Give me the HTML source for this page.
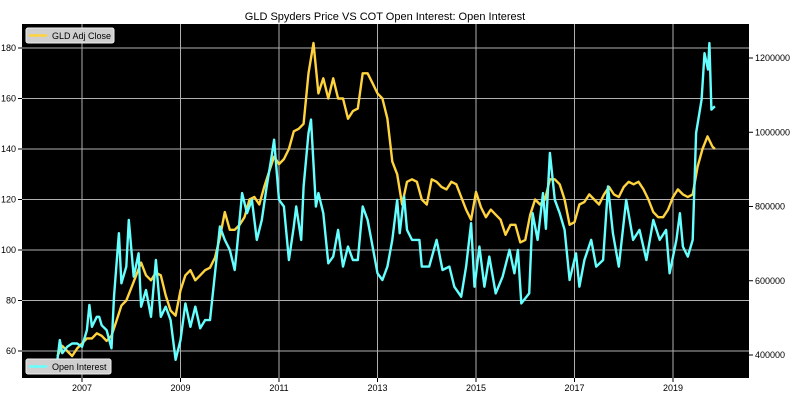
<!DOCTYPE html>
<html><head><meta charset="utf-8"><style>
html,body{margin:0;padding:0;background:#fff;}
svg{display:block;font-family:"Liberation Sans","DejaVu Sans",sans-serif;}
</style></head><body>
<svg id="chart" width="800" height="403" viewBox="0 0 800 403" xmlns="http://www.w3.org/2000/svg">
<text x="385" y="20" font-size="11" text-anchor="middle" fill="#000">GLD Spyders Price VS COT Open Interest: Open Interest</text>
<rect x="22" y="24" width="727" height="354" fill="#000"/>
<g id="grid"></g><g id="axes"></g><g id="series"></g>
<g>
<rect x="26" y="28" width="88" height="15" rx="2" fill="#cfcfcf" stroke="#eee"/>
<line x1="29" y1="35.5" x2="47" y2="35.5" stroke="#ffd33d" stroke-width="2.5"/>
<text x="52" y="39" font-size="9" fill="#000">GLD Adj Close</text></g>
<g>
<rect x="26" y="359" width="85" height="15" rx="2" fill="#cfcfcf" stroke="#eee"/>
<line x1="29" y1="366.5" x2="47" y2="366.5" stroke="#66ffff" stroke-width="2.5"/>
<text x="52" y="370" font-size="9" fill="#000">Open Interest</text></g>
</svg>
<script>
const gldDates=[2006.5,2006.6,2006.7,2006.8,2006.9,2007.0,2007.1,2007.2,2007.3,2007.4,2007.5,2007.6,2007.7,2007.8,2007.9,2008.0,2008.1,2008.2,2008.3,2008.4,2008.5,2008.6,2008.7,2008.8,2008.9,2009.0,2009.1,2009.2,2009.3,2009.4,2009.5,2009.6,2009.7,2009.8,2009.9,2010.0,2010.1,2010.2,2010.3,2010.4,2010.5,2010.6,2010.7,2010.8,2010.9,2011.0,2011.1,2011.2,2011.3,2011.4,2011.5,2011.6,2011.7,2011.8,2011.9,2012.0,2012.1,2012.2,2012.3,2012.4,2012.5,2012.6,2012.7,2012.8,2012.9,2013.0,2013.1,2013.2,2013.3,2013.4,2013.5,2013.6,2013.7,2013.8,2013.9,2014.0,2014.1,2014.2,2014.3,2014.4,2014.5,2014.6,2014.7,2014.8,2014.9,2015.0,2015.1,2015.2,2015.3,2015.4,2015.5,2015.6,2015.7,2015.8,2015.9,2016.0,2016.1,2016.2,2016.3,2016.4,2016.5,2016.6,2016.7,2016.8,2016.9,2017.0,2017.1,2017.2,2017.3,2017.4,2017.5,2017.6,2017.7,2017.8,2017.9,2018.0,2018.1,2018.2,2018.3,2018.4,2018.5,2018.6,2018.7,2018.8,2018.9,2019.0,2019.1,2019.2,2019.3,2019.4,2019.5,2019.6,2019.7,2019.8,2019.85];
const gldValues=[58,62,60,58,61,63,65,65,67,66,64,66,72,78,80,85,90,95,90,88,91,90,82,76,74,84,90,92,88,90,92,93,97,105,115,108,108,110,113,120,121,118,125,131,137,134,136,140,147,148,150,170,182,162,168,160,168,160,160,152,155,156,170,170,166,162,160,152,135,130,118,127,128,127,120,118,128,127,125,124,127,126,121,116,112,123,117,113,116,114,112,106,110,110,103,104,114,120,118,120,128,128,126,120,110,111,118,119,122,120,118,122,125,122,121,125,127,126,127,124,120,115,113,113,116,121,124,122,121,122,133,140,145,141,140];
const oiDates=[2006.5,2006.55,2006.6,2006.7,2006.8,2006.9,2007.0,2007.1,2007.15,2007.2,2007.3,2007.35,2007.4,2007.5,2007.6,2007.65,2007.75,2007.8,2007.9,2007.95,2008.05,2008.15,2008.2,2008.3,2008.4,2008.5,2008.6,2008.7,2008.8,2008.9,2009.0,2009.1,2009.2,2009.3,2009.4,2009.5,2009.6,2009.7,2009.8,2009.9,2010.0,2010.1,2010.15,2010.25,2010.35,2010.45,2010.55,2010.65,2010.75,2010.85,2010.9,2011.0,2011.1,2011.2,2011.3,2011.35,2011.45,2011.5,2011.6,2011.65,2011.75,2011.8,2011.9,2012.0,2012.1,2012.2,2012.3,2012.4,2012.5,2012.6,2012.7,2012.8,2012.9,2013.0,2013.1,2013.2,2013.3,2013.4,2013.45,2013.54,2013.6,2013.7,2013.85,2013.9,2014.05,2014.2,2014.32,2014.46,2014.56,2014.7,2014.8,2014.9,2014.97,2015.07,2015.17,2015.27,2015.4,2015.54,2015.68,2015.78,2015.85,2015.92,2016.08,2016.15,2016.25,2016.36,2016.42,2016.5,2016.6,2016.7,2016.8,2016.9,2017.03,2017.1,2017.2,2017.34,2017.44,2017.58,2017.68,2017.78,2017.9,2018.05,2018.19,2018.32,2018.46,2018.6,2018.73,2018.86,2018.93,2019.07,2019.14,2019.2,2019.3,2019.4,2019.47,2019.58,2019.64,2019.71,2019.74,2019.78,2019.85];
const oiValues=[387,440,405,422,431,431,422,467,535,476,503,503,480,467,418,557,728,593,638,764,611,674,530,575,503,656,503,530,494,387,440,539,476,530,472,494,494,620,746,710,683,629,692,836,782,818,710,764,854,935,980,818,800,656,746,800,710,854,998,1034,800,836,782,647,665,737,638,692,656,656,800,764,692,620,602,638,710,818,728,827,737,710,710,638,638,710,629,638,584,557,638,755,584,692,584,665,566,611,683,620,683,539,566,782,710,836,740,944,818,782,737,602,674,584,656,710,638,656,854,728,638,818,710,737,656,764,710,737,620,710,782,692,665,710,998,1088,1213,1169,1240,1061,1070];
const xTicks=[2007,2009,2011,2013,2015,2017,2019];
const yTicksLeft=[60,80,100,120,140,160,180];
const yTicksRight=[400000,600000,800000,1000000,1200000];
const X=t=>82+(t-2007)*49.25;
const YL=p=>48+(180-p)*2.525;
const YR=v=>58+(1200000-v)/200000*74.25;
const NS="http://www.w3.org/2000/svg";
function mk(tag,attrs,parent){const e=document.createElementNS(NS,tag);for(const k in attrs)e.setAttribute(k,attrs[k]);document.getElementById(parent).appendChild(e);return e;}
xTicks.forEach(t=>{
 const g=mk('line',{x1:X(t),x2:X(t),y1:24,y2:378,stroke:'#b0b0b0','stroke-width':1},'grid');
 
 
 mk('line',{x1:X(t),x2:X(t),y1:378,y2:382,stroke:'#000'},'axes');
 const l=mk('text',{x:X(t),y:391,'font-size':9,'text-anchor':'middle'},'axes');l.textContent=t;
 
 
});
yTicksLeft.forEach(p=>{
 const g=mk('line',{x1:22,x2:749,y1:YL(p),y2:YL(p),stroke:'#b0b0b0','stroke-width':1},'grid');
 
 
 mk('line',{x1:18,x2:22,y1:YL(p),y2:YL(p),stroke:'#000'},'axes');
 const l=mk('text',{x:16,y:YL(p)+3,'font-size':9,'text-anchor':'end'},'axes');l.textContent=p;
 
 
});
yTicksRight.forEach(v=>{
 mk('line',{x1:749,x2:753,y1:YR(v),y2:YR(v),stroke:'#000'},'axes');
 const l=mk('text',{x:755,y:YR(v)+3,'font-size':9},'axes');l.textContent=v;
 
 
});
const gp=mk('polyline',{points:gldDates.map((t,i)=>X(t).toFixed(1)+','+YL(gldValues[i]).toFixed(1)).join(' '),fill:'none',stroke:'#ffd33d','stroke-width':2.4,'stroke-linejoin':'round'},'series');


const op=mk('polyline',{points:oiDates.map((t,i)=>X(t).toFixed(1)+','+YR(oiValues[i]*1000).toFixed(1)).join(' '),fill:'none',stroke:'#66ffff','stroke-width':2.4,'stroke-linejoin':'round'},'series');


</script>
</body></html>
